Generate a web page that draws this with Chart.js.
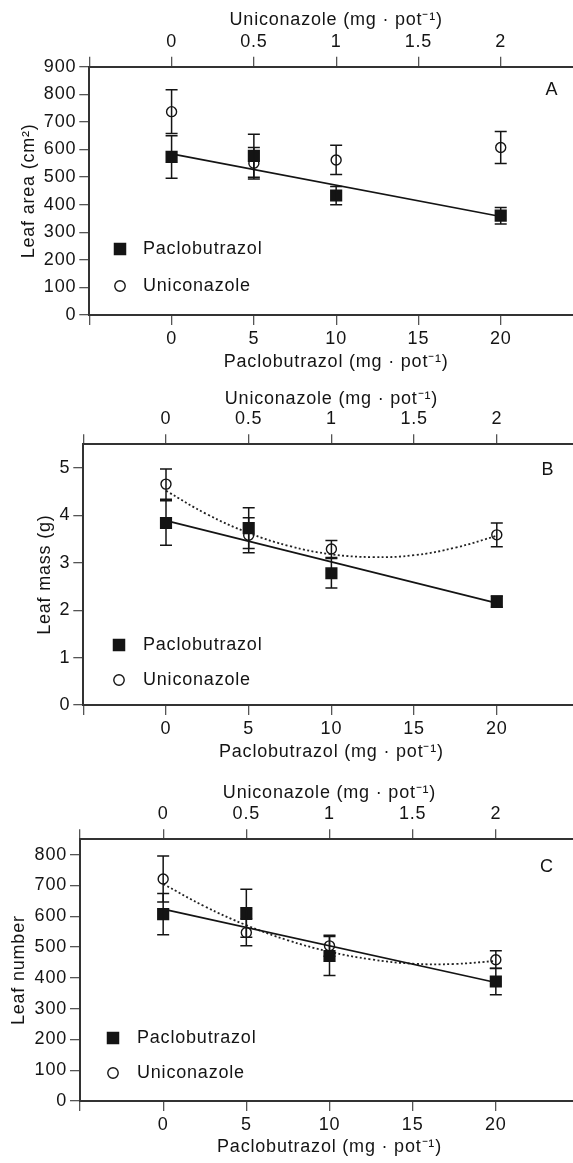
<!DOCTYPE html>
<html>
<head>
<meta charset="utf-8">
<script src="https://cdn.jsdelivr.net/npm/chart.js@4.4.1/dist/chart.umd.min.js"></script>
<style>
  html, body { margin: 0; padding: 0; background: #fff; width: 573px; height: 1163px; overflow: hidden; }
  canvas { position: absolute; left: 0; }
</style>
</head>
<body>
<canvas id="chartA" width="600" height="380" style="top:0px"></canvas>
<canvas id="chartB" width="600" height="390" style="top:380px"></canvas>
<canvas id="chartC" width="600" height="393" style="top:770px"></canvas>
<script>
// doses (mg per pot)
const pacDose = [0, 5, 10, 20];
const uniDose = [0, 0.5, 1, 2];
const pacFitDose = [0, 20];
const uniFitDose = [0, 0.25, 0.5, 0.75, 1, 1.25, 1.5, 1.75, 2];

// tick labels
const pacTicks = [0, 5, 10, 15, 20];
const uniTicks = [0, 0.5, 1, 1.5, 2];
const areaTicks = [0, 100, 200, 300, 400, 500, 600, 700, 800, 900];
const massTicks = [0, 1, 2, 3, 4, 5];
const numberTicks = [0, 100, 200, 300, 400, 500, 600, 700, 800];

// A - leaf area
const areaPac = [573, 577, 433, 360];
const areaPacErr = [77, 78, 33, 30];
const areaUni = [737, 550, 562, 607];
const areaUniErr = [79, 57, 53, 58];
const areaPacFit = [584, 357];

// B - leaf mass
const massPac = [3.84, 3.73, 2.78, 2.18];
const massPacErr = [0.47, 0.43, 0.31, 0.12];
const massUni = [4.66, 3.58, 3.29, 3.59];
const massUniErr = [0.32, 0.37, 0.18, 0.25];
const massPacFit = [3.89, 2.15];
const massUniFit = [4.52, 4.02, 3.63, 3.35, 3.18, 3.12, 3.16, 3.32, 3.57];

// C - leaf number
const numberPac = [607, 610, 471, 388];
const numberPacErr = [67, 78, 63, 43];
const numberUni = [721, 547, 504, 459];
const numberUniErr = [75, 43, 34, 29];
const numberPacFit = [623, 385];
const numberUniFit = [705, 632, 571, 522, 485, 460, 446, 445, 455];

const FONT = { family: "'Liberation Sans', Arial, Helvetica, sans-serif", size: 18 };
const INK = '#141414';

const pts = (xs, ys) => xs.map((x, i) => ({ x: x, y: ys[i] }));
const hasTick = (list, v) => list.some(t => Math.abs(t - v) < 1e-9);

const errorBars = {
  id: 'errorBars',
  afterDatasetsDraw(chart) {
    const ctx = chart.ctx;
    const ys = chart.scales.y;
    ctx.save();
    ctx.strokeStyle = INK;
    ctx.lineWidth = 1.5;
    chart.data.datasets.forEach(ds => {
      if (!ds.errors) return;
      const xs = chart.scales[ds.xAxisID];
      ds.data.forEach((p, j) => {
        const x = xs.getPixelForValue(p.x);
        const y1 = ys.getPixelForValue(p.y + ds.errors[j]);
        const y2 = ys.getPixelForValue(p.y - ds.errors[j]);
        ctx.beginPath();
        ctx.moveTo(x, y1); ctx.lineTo(x, y2);
        ctx.moveTo(x - 6, y1); ctx.lineTo(x + 6, y1);
        ctx.moveTo(x - 6, y2); ctx.lineTo(x + 6, y2);
        ctx.stroke();
      });
    });
    ctx.restore();
  }
};

const panelDeco = {
  id: 'panelDeco',
  beforeDraw(chart) {
    chart.ctx.letterSpacing = '0.8px';
  },
  afterDraw(chart, args, o) {
    const ctx = chart.ctx;
    ctx.save();
    ctx.font = FONT.size + 'px ' + FONT.family;
    ctx.fillStyle = INK;
    ctx.strokeStyle = INK;
    ctx.textBaseline = 'middle';
    ctx.textAlign = 'left';
    // legend
    const s = 12.5;
    ctx.fillRect(o.legX - s / 2, o.legY1 - s / 2, s, s);
    ctx.fillText(chart.data.datasets[0].label, o.textX, o.legY1);
    ctx.lineWidth = 1.4;
    ctx.beginPath();
    ctx.arc(o.legX, o.legY2, 5.2, 0, Math.PI * 2);
    ctx.stroke();
    ctx.fillText(chart.data.datasets[1].label, o.textX, o.legY2);
    // panel letter
    ctx.textAlign = 'center';
    ctx.fillText(o.letter, o.letterX, o.letterY);
    ctx.restore();
  }
};

function axisBase() {
  return {
    type: 'linear',
    grid: { drawOnChartArea: false, tickLength: 10, color: '#555', lineWidth: 1.3 },
    border: { color: '#333', width: 2 },
  };
}

function makePanel(id, p) {
  const datasets = [
    { label: 'Paclobutrazol', xAxisID: 'x', data: pts(pacDose, p.pac), errors: p.pacErr,
      pointStyle: 'rect', pointRadius: 8.6, backgroundColor: INK, borderColor: INK, borderWidth: 0 },
    { label: 'Uniconazole', xAxisID: 'x2', data: pts(uniDose, p.uni), errors: p.uniErr,
      pointStyle: 'circle', pointRadius: 5, backgroundColor: 'rgba(0,0,0,0)', borderColor: INK, borderWidth: 1.4 },
    { label: 'Paclobutrazol fit', xAxisID: 'x', data: pts(pacFitDose, p.pacFit), showLine: true,
      pointRadius: 0, borderColor: INK, borderWidth: 1.7 }
  ];
  if (p.uniFit) {
    datasets.push({ label: 'Uniconazole fit', xAxisID: 'x2', data: pts(uniFitDose, p.uniFit), showLine: true,
      pointRadius: 0, borderColor: '#222', borderWidth: 1.8, borderDash: [2, 2.4], tension: 0.4 });
  }

  const x = axisBase();
  Object.assign(x, {
    position: 'bottom', min: -5, max: 25,
    ticks: { stepSize: 5, autoSkip: false, maxRotation: 0, padding: 3, color: INK, font: FONT,
      callback: v => hasTick(pacTicks, v) ? String(v) : '' },
    title: { display: true, text: 'Paclobutrazol (mg · pot⁻¹)', color: INK, font: FONT,
      padding: { top: 0, bottom: p.bottomTitlePad } },
    afterFit: s => { s.height = p.bottomH; }
  });
  const x2 = axisBase();
  Object.assign(x2, {
    position: 'top', min: -0.5, max: 2.5,
    ticks: { stepSize: 0.5, autoSkip: false, maxRotation: 0, padding: 4, color: INK, font: FONT,
      callback: v => hasTick(uniTicks, v) ? String(Math.round(v * 10) / 10) : '' },
    title: { display: true, text: 'Uniconazole (mg · pot⁻¹)', color: INK, font: FONT,
      padding: { top: p.topTitlePad, bottom: 0 } },
    afterFit: s => { s.height = p.topH; }
  });
  const y = axisBase();
  Object.assign(y, {
    position: 'left', min: 0, max: p.yMax,
    ticks: { stepSize: p.yStep, includeBounds: false, autoSkip: false, padding: 3, color: INK, font: FONT,
      callback: v => hasTick(p.yTicks, v) ? String(v) : '' },
    title: { display: true, text: p.yTitle, color: INK, font: FONT,
      padding: { top: p.yTitlePad, bottom: 0 } },
    afterFit: s => { s.width = p.left; }
  });

  new Chart(document.getElementById(id), {
    type: 'scatter',
    data: { datasets: datasets },
    options: {
      responsive: false,
      animation: false,
      devicePixelRatio: 1,
      layout: { padding: { left: 0, right: p.padRight, top: 0, bottom: 0 } },
      scales: { x: x, x2: x2, y: y },
      plugins: {
        legend: { display: false },
        tooltip: { enabled: false },
        panelDeco: p.deco
      }
    },
    plugins: [errorBars, panelDeco]
  });
}

makePanel('chartA', {
  pac: areaPac, pacErr: areaPacErr, uni: areaUni, uniErr: areaUniErr, pacFit: areaPacFit, uniFit: null,
  yMax: 900, yStep: 100, yTicks: areaTicks, yTitle: 'Leaf area (cm²)',
  left: 89.3, topH: 66.7, bottomH: 65, padRight: 17,
  yTitlePad: 18, topTitlePad: 9, bottomTitlePad: 7,
  deco: { legX: 120, legY1: 249, legY2: 286, textX: 143, letter: 'A', letterX: 552, letterY: 90 }
});

makePanel('chartB', {
  pac: massPac, pacErr: massPacErr, uni: massUni, uniErr: massUniErr, pacFit: massPacFit, uniFit: massUniFit,
  yMax: 5.5, yStep: 1, yTicks: massTicks, yTitle: 'Leaf mass (g)',
  left: 83.3, topH: 64.3, bottomH: 65, padRight: 20.5,
  yTitlePad: 34, topTitlePad: 8, bottomTitlePad: 7,
  deco: { legX: 119, legY1: 265, legY2: 300, textX: 143, letter: 'B', letterX: 548, letterY: 90 }
});

makePanel('chartC', {
  pac: numberPac, pacErr: numberPacErr, uni: numberUni, uniErr: numberUniErr, pacFit: numberPacFit, uniFit: numberUniFit,
  yMax: 850, yStep: 100, yTicks: numberTicks, yTitle: 'Leaf number',
  left: 80, topH: 69.3, bottomH: 62, padRight: 21,
  yTitlePad: 8, topTitlePad: 12, bottomTitlePad: 5,
  deco: { legX: 113, legY1: 268, legY2: 303, textX: 137, letter: 'C', letterX: 547, letterY: 96.7 }
});
</script>
</body>
</html>
